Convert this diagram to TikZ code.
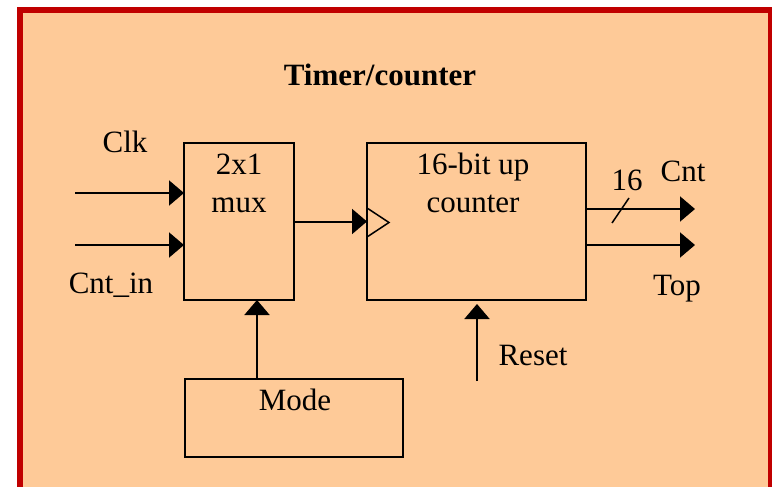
\documentclass[tikz,border=0pt]{standalone}
\usepackage{fontspec}
\setmainfont{Liberation Serif}
\usetikzlibrary{arrows.meta}
\definecolor{bgorange}{HTML}{FECA98}
\definecolor{framered}{HTML}{C00000}
\begin{document}
\begin{tikzpicture}[x=1pt,y=-1pt,
  blk/.style={draw=black,line width=2pt,rectangle,inner sep=0pt,outer sep=0pt},
  lbl/.style={inner sep=0pt,anchor=base,font=\fontsize{31}{36}\selectfont},
  sig/.style={line width=2pt,-{Triangle[length=15pt,width=25pt]}}]
\useasboundingbox (0,0) rectangle (772,487);
\clip (0,0) rectangle (772,487);
\fill[white] (0,0) rectangle (772,487);
\draw[framered,line width=6pt,fill=bgorange] (20,10) rectangle (771,520);
% title
\node[lbl,font=\fontsize{31}{36}\selectfont\bfseries] (title) at (380,85) {Timer/counter};
% blocks
\node[blk,minimum width=110pt,minimum height=157pt] (mux) at (239,221.5) {};
\node[blk,minimum width=219pt,minimum height=157pt] (cnt) at (476.5,221.5) {};
\node[blk,minimum width=218pt,minimum height=78pt] (mode) at (294,418) {};
% block texts
\node[lbl] (muxa) at (239,175) {2x1};
\node[lbl] (muxb) at (239,212) {mux};
\node[lbl] (cnta) at (473,174) {16-bit up};
\node[lbl] (cntb) at (473,212) {counter};
\node[lbl] (modet) at (295,410) {Mode};
% labels
\node[lbl] (clk) at (125,153) {Clk};
\node[lbl] (cntin) at (111,293) {Cnt\_in};
\node[lbl] (sixteen) at (627,190) {16};
\node[lbl] (cntout) at (683,182) {Cnt};
\node[lbl] (top) at (677,295) {Top};
\node[lbl] (reset) at (533,365) {Reset};
% free ends
\coordinate (clkin) at (75,193);
\coordinate (cntinin) at (75,245);
\coordinate (cntend) at (695,209);
\coordinate (topend) at (695,245);
\coordinate (resetin) at (477,381);
\coordinate (resettip) at (477,304);
% connectors
\draw[sig] (clkin) -- (clkin -| mux.west);
\draw[sig] (cntinin) -- (cntinin -| mux.west);
\draw[sig] (mux.east) -- (cnt.west);
\draw[sig] (mode.north -| 257,0) -- (mux.south -| 257,0);
\draw[sig] (cntend -| cnt.east) -- (cntend);
\draw[sig] (topend -| cnt.east) -- (topend);
\draw[sig] (resetin) -- (resettip);
% bus slash
\draw[line width=1.5pt] (612,223) -- (629,198);
% clock triangle
\draw[line width=1.5pt] (cnt.west |- 0,208) -- (389,222.5) -- (cnt.west |- 0,237);
\end{tikzpicture}
\end{document}
